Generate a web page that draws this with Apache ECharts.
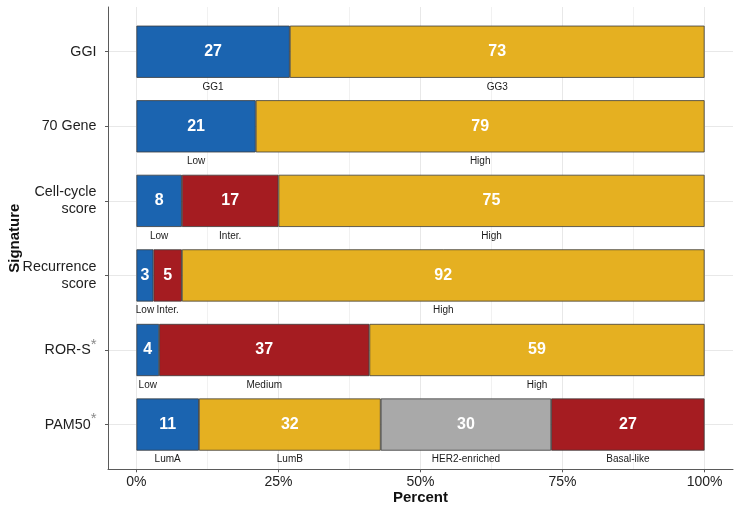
<!DOCTYPE html>
<html>
<head>
<meta charset="utf-8">
<script src="https://cdn.jsdelivr.net/npm/echarts@6/dist/echarts.min.js"></script>
<style>
html,body{margin:0;padding:0;background:#fff;}
#c{width:737px;height:506px;}
</style>
</head>
<body>
<div id="c"></div>
<script>
// ---- data ----
var categories = ['GGI', '70 Gene', 'Cell-cycle score', 'Recurrence score', 'ROR-S', 'PAM50'];
var yTickLabels = ['GGI', '70 Gene', 'Cell-cycle\nscore', 'Recurrence\nscore', 'ROR-S*', 'PAM50*'];
var seg1Values = [27, 21, 8, 3, 4, 11];
var seg2Values = [73, 79, 17, 5, 37, 32];
var seg3Values = [null, null, 75, 92, 59, 30];
var seg4Values = [null, null, null, null, null, 27];
var seg1Names = ['GG1', 'Low', 'Low', 'Low', 'Low', 'LumA'];
var seg2Names = ['GG3', 'High', 'Inter.', 'Inter.', 'Medium', 'LumB'];
var seg3Names = [null, null, 'High', 'High', 'High', 'HER2-enriched'];
var seg4Names = [null, null, null, null, null, 'Basal-like'];
var xTickValues = [0, 25, 50, 75, 100];
var xMinorValues = [12.5, 37.5, 62.5, 87.5];

// ---- styles ----
var BLUE = '#1b64b0', YELLOW = '#e5b021', RED = '#a51c21', GRAY = '#a9a9a9';
var colorOf = {
  'GG1': BLUE, 'Low': BLUE, 'LumA': BLUE,
  'GG3': YELLOW, 'High': YELLOW, 'LumB': YELLOW,
  'Inter.': RED, 'Medium': RED, 'Basal-like': RED,
  'HER2-enriched': GRAY
};
var FONT = "'Liberation Sans', Arial, Helvetica, sans-serif";
var segValues = [seg1Values, seg2Values, seg3Values, seg4Values];
var segNames = [seg1Names, seg2Names, seg3Names, seg4Names];
var yPos = categories.map(function (c, i) { return i + 1; });

var series = [];
segValues.forEach(function (vals, s) {
  var names = segNames[s];
  series.push({
    type: 'bar', stack: 'v', xAxisIndex: 2, yAxisIndex: 1,
    barWidth: '70%', barGap: '-100%', silent: true,
    data: vals.map(function (v, i) {
      return v == null ? null : {
        value: v,
        itemStyle: { color: colorOf[names[i]], borderColor: '#3b3b3b', borderWidth: 0.8 }
      };
    }),
    label: {
      show: true, position: 'inside', color: '#ffffff', fontWeight: 'bold',
      fontSize: 16, fontFamily: FONT, formatter: function (p) { return p.value; }
    }
  });
});
segValues.forEach(function (vals, s) {
  var names = segNames[s];
  series.push({
    type: 'bar', stack: 'n', xAxisIndex: 2, yAxisIndex: 1,
    barWidth: '70%', barGap: '-100%', silent: true,
    itemStyle: { color: 'rgba(0,0,0,0)', borderWidth: 0 },
    data: vals.map(function (v, i) {
      return v == null ? null : { value: v, name: names[i] };
    }),
    label: {
      show: true, position: 'bottom', distance: 4, color: '#1a1a1a',
      fontSize: 10, fontFamily: FONT,
      formatter: function (p) { return p.data.name; }
    }
  });
});

var chart = echarts.init(document.getElementById('c'), null, { renderer: 'canvas' });
chart.setOption({
  animation: false,
  backgroundColor: '#ffffff',
  grid: [
    { left: 108, right: 4, top: 7, bottom: 36.7, outerBoundsMode: 'none', containLabel: false },
    { left: 108, right: 4, top: 14.46, bottom: 44.16, outerBoundsMode: 'none', containLabel: false }
  ],
  xAxis: [
    {
      gridIndex: 0, type: 'value', min: -5, max: 105, position: 'bottom',
      axisLine: { show: true, onZero: false, lineStyle: { color: '#5a5a5a', width: 1 } },
      axisTick: { show: true, customValues: xTickValues, length: 3, lineStyle: { color: '#5a5a5a' } },
      axisLabel: {
        show: true, customValues: xTickValues, margin: 6, fontSize: 14, color: '#222',
        fontFamily: FONT, formatter: function (v) { return v + '%'; }
      },
      splitLine: { show: true, lineStyle: { color: '#e8e8e8', width: 1 } },
      name: 'Percent', nameLocation: 'middle', nameGap: 21, nameMoveOverlap: false,
      nameTextStyle: { fontSize: 15, fontWeight: 'bold', color: '#111', fontFamily: FONT }
    },
    {
      gridIndex: 0, type: 'value', min: -5, max: 105, position: 'top',
      axisLine: { show: false, onZero: false },
      axisTick: { show: false, customValues: xMinorValues },
      axisLabel: { show: false, customValues: xMinorValues },
      splitLine: { show: true, lineStyle: { color: '#f1f1f1', width: 1 } }
    },
    {
      gridIndex: 1, type: 'value', min: -5, max: 105, show: false,
      splitLine: { show: false }
    }
  ],
  yAxis: [
    {
      gridIndex: 0, type: 'value', min: 0.4, max: 6.6, inverse: true,
      axisLine: { show: true, onZero: false, lineStyle: { color: '#5a5a5a', width: 1 } },
      axisTick: { show: true, customValues: yPos, length: 3, lineStyle: { color: '#5a5a5a' } },
      axisLabel: {
        show: true, customValues: yPos, margin: 11.5, fontSize: 14.3, color: '#1e1e1e',
        fontFamily: FONT, lineHeight: 17, align: 'right',
        formatter: function (v) {
          var t = yTickLabels[Math.round(v) - 1] || '';
          if (t.slice(-1) === '*') return t.slice(0, -1) + '{s|*}';
          return t;
        },
        rich: {
          s: { fontSize: 15, color: '#8a8a8a', fontFamily: FONT, padding: [0, 0, 11, 0], lineHeight: 15 }
        }
      },
      splitLine: { show: true, lineStyle: { color: '#e8e8e8', width: 1 } },
      name: 'Signature', nameLocation: 'middle', nameGap: 86, nameRotate: 90, nameMoveOverlap: false,
      nameTextStyle: { fontSize: 15, fontWeight: 'bold', color: '#111', fontFamily: FONT }
    },
    {
      gridIndex: 1, type: 'category', data: categories, inverse: true, show: false
    }
  ],
  series: series
});
</script>
</body>
</html>
